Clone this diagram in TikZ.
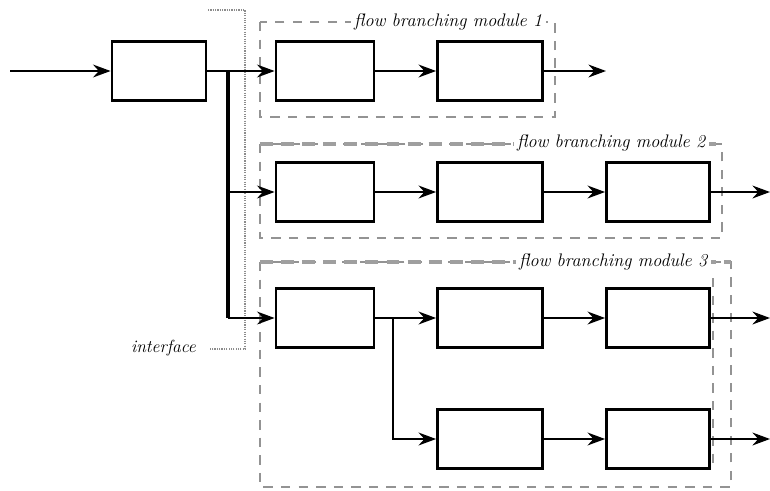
\documentclass[tikz,border=0pt]{standalone}
\usetikzlibrary{arrows.meta}

\tikzset{
  blk/.style={draw, line width=2.4pt, inner sep=0pt, minimum height=1.76cm},
  flow/.style={line width=1.6pt, -{Stealth[length=15pt,width=11pt,inset=5pt]}},
  bus/.style={line width=2.8pt},
  modframe/.style={gray!85, line width=0.9pt, dash pattern=on 8pt off 7pt},
  modtop/.style={gray!75, line width=2.8pt, dash pattern=on 11pt off 7pt},
  iface/.style={gray!90, line width=1pt, densely dotted},
  modlabel/.style={fill=white, inner sep=3pt, font=\fontsize{15.5}{18}\selectfont\itshape}
}

\begin{document}
\begin{tikzpicture}[x=0.03cm, y=-0.03cm]
            \useasboundingbox (0,0) rectangle (770,490);

            % module frames
            \draw[modframe] (260,22) rectangle (555,117);
            \draw[modframe] (260,144) rectangle (722,238);
            \draw[modtop] (260,144) -- (722,144);
            \draw[modframe] (260,262) rectangle (731,487);
            \draw[modtop] (260,262) -- (731,262);
            \draw[modframe] (713,278) -- (713,467);
            \node[modlabel, anchor=east] (lab1) at (546,22) {flow branching module 1};
            \node[modlabel, anchor=east] (lab2) at (709,143) {flow branching module 2};
            \node[modlabel, anchor=east] (lab3) at (711,262) {flow branching module 3};

            % interface
            \draw[iface] (208,10) -- (245,10) -- (245,349) -- (210,349);
            \node[anchor=east, font=\fontsize{15}{17}\selectfont\itshape] (ifc) at (200,348) {interface};

            % blocks
            \node[blk, minimum width=2.82cm] (A) at (159,71) {};
            \node[blk, minimum width=2.94cm] (B1) at (325,71) {};
            \node[blk, minimum width=3.15cm] (B2) at (490,71) {};
            \node[blk, minimum width=2.94cm] (C1) at (325,192) {};
            \node[blk, minimum width=3.15cm] (C2) at (490,192) {};
            \node[blk, minimum width=3.09cm] (C3) at (658,192) {};
            \node[blk, minimum width=2.94cm] (D1) at (325,318) {};
            \node[blk, minimum width=3.15cm] (D2) at (490,318) {};
            \node[blk, minimum width=3.09cm] (D3) at (658,318) {};
            \node[blk, minimum width=3.15cm] (E2) at (490,439) {};
            \node[blk, minimum width=3.09cm] (E3) at (658,439) {};

            \coordinate (in) at (10,71);
            \coordinate (split) at (228,71);
            \coordinate (split3) at (393,318);
            \coordinate (out1) at (606,71);
            \coordinate (out2) at (770,192);
            \coordinate (out3) at (770,318);
            \coordinate (out4) at (770,439);

            % connectors
            \draw[flow] (in) -- (A);
            \draw[flow] (A) -- (B1);
            \draw[bus] (split) -- (split |- D1);
            \draw[flow] (split |- C1) -- (C1);
            \draw[flow] (split |- D1) -- (D1);
            \draw[flow] (B1) -- (B2);
            \draw[flow] (B2) -- (out1);
            \draw[flow] (C1) -- (C2);
            \draw[flow] (C2) -- (C3);
            \draw[flow] (C3) -- (out2);
            \draw[flow] (D1) -- (D2);
            \draw[flow] (D2) -- (D3);
            \draw[flow] (D3) -- (out3);
            \draw[flow] (split3) |- (E2);
            \draw[flow] (E2) -- (E3);
            \draw[flow] (E3) -- (out4);
        \end{tikzpicture}
\end{document}
